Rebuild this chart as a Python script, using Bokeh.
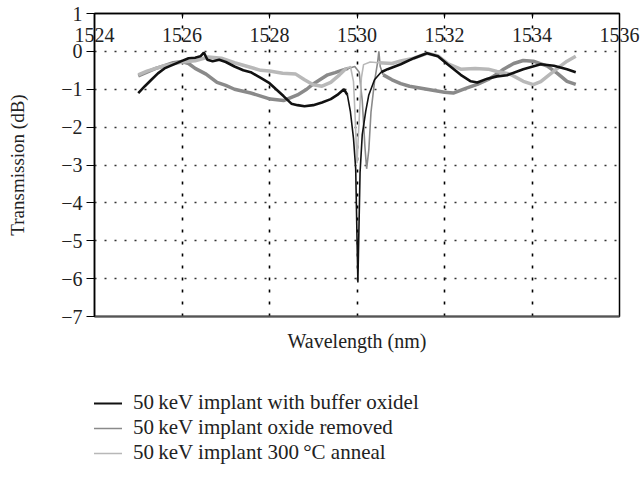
import numpy as np
from bokeh.plotting import figure
from bokeh.layouts import column
from bokeh.models import Range1d, FixedTicker, LinearAxis, Legend, LegendItem
from bokeh.embed import file_html
from bokeh.resources import INLINE

# ---------------- data ----------------
x_ticks = [1524, 1526, 1528, 1530, 1532, 1534, 1536]
x_tick_labels = ["1524", "1526", "1528", "1530", "1532", "1534", "1536"]
y_ticks = [1, 0, -1, -2, -3, -4, -5, -6, -7]
y_tick_labels = ["1", "0", "\u22121", "\u22122", "\u22123", "\u22124", "\u22125", "\u22126", "\u22127"]

series_names = ["50\u2009keV implant with buffer oxidel",
                "50\u2009keV implant oxide removed",
                "50\u2009keV implant 300\u2009\u00b0C anneal"]

buffer_wl = [1525.00, 1525.15, 1525.30, 1525.45, 1525.60, 1525.80, 1526.00, 1526.15, 1526.30, 1526.42,
             1526.50, 1526.58, 1526.70, 1526.85, 1527.00, 1527.20, 1527.40, 1527.57, 1527.80, 1528.00,
             1528.15, 1528.32, 1528.50, 1528.64, 1528.80, 1529.00, 1529.20, 1529.40, 1529.55, 1529.70,
             1529.78, 1529.85, 1529.92, 1529.97, 1530.02, 1530.07, 1530.12, 1530.20, 1530.27, 1530.40,
             1530.55, 1530.70, 1531.00, 1531.30, 1531.60, 1531.85, 1532.07, 1532.37, 1532.60, 1532.75,
             1532.98, 1533.20, 1533.43, 1533.80, 1534.20, 1534.50, 1534.80, 1535.00]
buffer_db = [-1.10, -0.92, -0.75, -0.58, -0.45, -0.35, -0.25, -0.18, -0.17, -0.13,
             -0.03, -0.22, -0.26, -0.22, -0.28, -0.40, -0.50, -0.55, -0.70, -0.84,
             -1.00, -1.18, -1.38, -1.42, -1.45, -1.42, -1.35, -1.26, -1.15, -1.00,
             -1.15, -1.60, -2.30, -3.10, -6.10, -3.20, -2.20, -1.58, -1.15, -0.75,
             -0.55, -0.47, -0.34, -0.18, -0.05, -0.13, -0.34, -0.62, -0.79, -0.82,
             -0.72, -0.66, -0.63, -0.47, -0.34, -0.38, -0.47, -0.55]

removed_wl = [1525.00, 1525.20, 1525.40, 1525.60, 1525.80, 1526.00, 1526.15, 1526.30, 1526.55, 1526.80,
              1527.00, 1527.20, 1527.57, 1527.80, 1528.02, 1528.32, 1528.64, 1528.85, 1529.00, 1529.15,
              1529.33, 1529.50, 1529.65, 1529.80, 1529.95, 1530.05, 1530.12, 1530.18, 1530.22, 1530.27,
              1530.32, 1530.40, 1530.47, 1530.50, 1530.53, 1530.60, 1530.80, 1531.00, 1531.20, 1531.60,
              1532.00, 1532.20, 1532.50, 1532.75, 1533.00, 1533.20, 1533.35, 1533.58, 1533.80, 1534.03,
              1534.35, 1534.58, 1534.80, 1535.00]
removed_db = [-0.65, -0.55, -0.45, -0.38, -0.30, -0.27, -0.32, -0.45, -0.60, -0.82,
              -0.90, -1.00, -1.10, -1.18, -1.26, -1.30, -1.15, -1.00, -0.86, -0.75,
              -0.62, -0.56, -0.50, -0.45, -0.40, -0.55, -1.30, -2.50, -3.10, -2.60,
              -1.60, -0.80, -0.30, 0.00, -0.40, -0.62, -0.75, -0.85, -0.92, -1.00,
              -1.08, -1.10, -0.97, -0.87, -0.74, -0.60, -0.47, -0.32, -0.24, -0.26,
              -0.39, -0.58, -0.79, -0.87]

anneal_wl = [1525.00, 1525.20, 1525.40, 1525.60, 1525.80, 1526.00, 1526.30, 1526.60, 1526.90, 1527.20,
             1527.50, 1527.80, 1528.00, 1528.30, 1528.60, 1528.80, 1529.00, 1529.20, 1529.40, 1529.60,
             1529.75, 1529.85, 1529.92, 1529.96, 1530.00, 1530.05, 1530.10, 1530.15, 1530.30, 1530.50,
             1530.80, 1531.00, 1531.30, 1531.60, 1531.85, 1532.07, 1532.37, 1532.70, 1533.00, 1533.20,
             1533.50, 1533.80, 1534.03, 1534.20, 1534.35, 1534.58, 1534.80, 1535.00]
anneal_db = [-0.62, -0.52, -0.45, -0.38, -0.33, -0.28, -0.25, -0.15, -0.18, -0.30,
             -0.40, -0.50, -0.52, -0.58, -0.60, -0.75, -0.88, -0.92, -0.82, -0.62,
             -0.45, -0.40, -0.80, -1.80, -2.95, -1.80, -0.70, -0.35, -0.28, -0.30,
             -0.32, -0.25, -0.18, -0.05, -0.12, -0.32, -0.47, -0.45, -0.47, -0.53,
             -0.60, -0.79, -0.88, -0.80, -0.66, -0.45, -0.26, -0.13]

# ---------------- figure ----------------
FONT = "Liberation Serif"

p = figure(width=640, height=370, output_backend="svg", toolbar_location=None, title=None,
           x_range=Range1d(1524, 1536), y_range=Range1d(-7, 1),
           x_axis_location="above",
           min_border_left=94, min_border_right=21, min_border_top=13, min_border_bottom=54)
p.background_fill_color = "white"
p.border_fill_color = "white"
p.outline_line_color = "black"
p.outline_line_width = 1.5

# top x axis (ticks and labels inside the frame)
xa = p.xaxis[0]
xa.ticker = FixedTicker(ticks=x_ticks)
xa.major_label_overrides = {t: l for t, l in zip(x_ticks, x_tick_labels)}
xa.major_tick_in = 5
xa.major_tick_out = 0
xa.minor_tick_in = 0
xa.minor_tick_out = 0
xa.major_label_standoff = -28
xa.axis_line_color = "black"
xa.axis_line_width = 1.5
xa.major_tick_line_color = "black"
xa.major_label_text_font = FONT
xa.major_label_text_font_size = "20px"
xa.major_label_text_color = "#222222"

# left y axis
ya = p.yaxis[0]
ya.ticker = FixedTicker(ticks=y_ticks)
ya.major_label_overrides = {t: l for t, l in zip(y_ticks, y_tick_labels)}
ya.major_tick_in = 0
ya.major_tick_out = 8
ya.minor_tick_in = 0
ya.minor_tick_out = 0
ya.major_label_standoff = 4
ya.axis_line_color = "black"
ya.axis_line_width = 1.5
ya.major_label_text_font = FONT
ya.major_label_text_font_size = "20px"
ya.major_label_text_color = "#222222"
ya.axis_label = "Transmission (dB)"
ya.axis_label_text_font = FONT
ya.axis_label_text_font_size = "19px"
ya.axis_label_text_font_style = "normal"
ya.axis_label_text_color = "#222222"
ya.axis_label_standoff = 30

# bottom axis: only line and label
ba = LinearAxis(ticker=FixedTicker(ticks=[]))
ba.major_tick_in = 0
ba.major_tick_out = 0
ba.minor_tick_in = 0
ba.minor_tick_out = 0
ba.axis_line_color = "#555555"
ba.axis_line_width = 2
ba.axis_label = "Wavelength (nm)"
ba.axis_label_text_font = FONT
ba.axis_label_text_font_size = "20px"
ba.axis_label_text_font_style = "normal"
ba.axis_label_text_color = "#222222"
ba.axis_label_standoff = 13
p.add_layout(ba, "below")

# grids
p.xgrid.grid_line_color = "black"
p.xgrid.grid_line_dash = "3 9"
p.xgrid.grid_line_width = 1.6
p.ygrid.ticker = FixedTicker(ticks=y_ticks)
p.ygrid.grid_line_color = "#333333"
p.ygrid.grid_line_dash = "2 8"
p.ygrid.grid_line_width = 1.3

# ---------------- lines ----------------
styles = [("#8a8a8a", removed_wl, removed_db, 3.5),
          ("#b8b8b8", anneal_wl, anneal_db, 3.5),
          ("#111111", buffer_wl, buffer_db, 2.6)]
for color, wl, db, w in styles:
    wl = np.array(wl)
    db = np.array(db)
    dip = (wl >= 1529.75) & (wl <= 1530.6)
    i0 = np.argmax(dip)
    i1 = len(dip) - np.argmax(dip[::-1])
    p.line(wl[:i0 + 1], db[:i0 + 1], line_color=color, line_width=w)
    p.line(wl[i1 - 1:], db[i1 - 1:], line_color=color, line_width=w)
    p.line(wl[i0:i1], db[i0:i1], line_color=color, line_width=1.6)

# ---------------- legend (separate strip below the chart) ----------------
lf = figure(width=640, height=107, output_backend="svg", toolbar_location=None, title=None,
            x_range=Range1d(0, 1), y_range=Range1d(0, 1),
            x_axis_type=None, y_axis_type=None, min_border=0)
lf.outline_line_color = None
lf.background_fill_color = "white"
lf.border_fill_color = "white"
lf.xgrid.visible = False
lf.ygrid.visible = False
legend_series = [("#111111", buffer_wl, buffer_db, 1.8),
                 ("#8a8a8a", removed_wl, removed_db, 1.5),
                 ("#b8b8b8", anneal_wl, anneal_db, 1.5)]
items = []
for name, (color, wl, db, w) in zip(series_names, legend_series):
    r = lf.line(wl, db, line_color=color, line_width=w)
    items.append(LegendItem(label=name, renderers=[r]))
legend = Legend(items=items, location=(-9, 12))
legend.background_fill_alpha = 0
legend.border_line_alpha = 0
legend.padding = 0
legend.margin = 0
legend.spacing = -2
legend.glyph_width = 37
legend.glyph_height = 20
legend.label_height = 20
legend.label_standoff = 11
legend.label_text_font = FONT
legend.label_text_font_size = "21px"
legend.label_text_color = "#222222"
lf.add_layout(legend)

open("out.html", "w").write(file_html(column(p, lf, spacing=0), INLINE))
